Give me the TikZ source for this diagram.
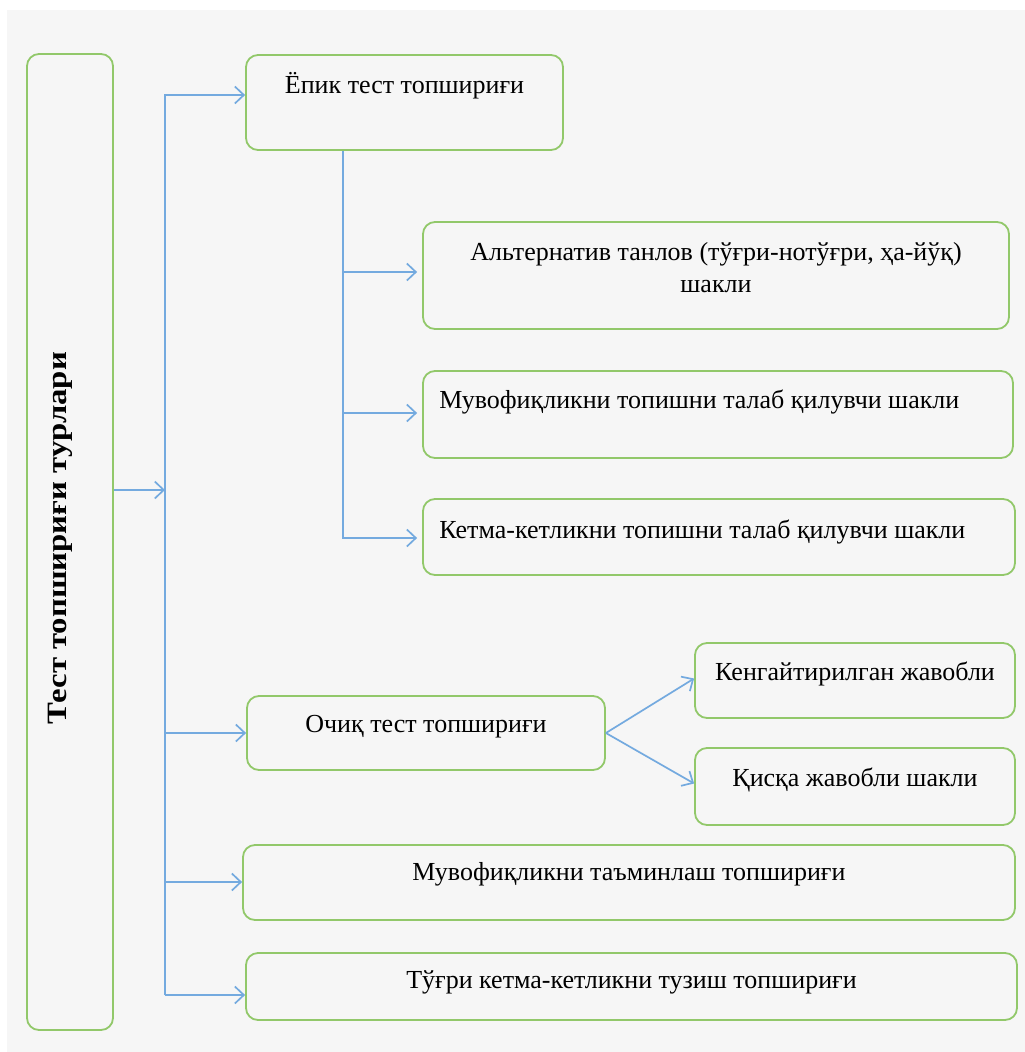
\documentclass[tikz,border=0pt]{standalone}
\usepackage{fontspec}
\setmainfont{Liberation Serif}
\usetikzlibrary{arrows.meta,positioning}
\definecolor{leaf}{HTML}{92C86A}
\definecolor{sky}{HTML}{74AADF}
\definecolor{paper}{HTML}{F6F6F6}
\tikzset{
  box/.style={draw=leaf,line width=1.8pt,rounded corners=12pt,fill=paper,inner sep=0pt},
  txt/.style={font=\fontsize{26}{32}\selectfont,text=black,inner sep=0pt,align=center},
  arrow/.style={-{Straight Barb[length=9pt,width=17pt]},line width=1.7pt,draw=sky},
  link/.style={line width=1.7pt,draw=sky}
}
\begin{document}
\begin{tikzpicture}[x=1pt,y=-1pt]
  \useasboundingbox (0,0) rectangle (1025,1052);
  \fill[paper] (7,10) rectangle (1025,1052);

  % boxes
  \node[box,minimum width=86pt,minimum height=976pt] (root) at (70,542) {};
  \node[box,minimum width=317pt,minimum height=95pt] (epik) at (404.5,102.5) {};
  \node[box,minimum width=586pt,minimum height=107pt] (alt) at (716,275.5) {};
  \node[box,minimum width=590pt,minimum height=87pt] (muvtop) at (718,414.5) {};
  \node[box,minimum width=592pt,minimum height=76pt] (ketma) at (719,537) {};
  \node[box,minimum width=358pt,minimum height=74pt] (ochiq) at (426,733) {};
  \node[box,minimum width=320pt,minimum height=75pt] (keng) at (855,680.5) {};
  \node[box,minimum width=320pt,minimum height=77pt] (qisqa) at (855,786.5) {};
  \node[box,minimum width=772pt,minimum height=75pt] (muvtam) at (629,882.5) {};
  \node[box,minimum width=771pt,minimum height=67pt] (tugri) at (631.5,986.5) {};

  % texts
  \node[txt,font=\bfseries\fontsize{28}{32}\selectfont,rotate=90] (rootT) at (60,538) {\scalebox{1.17}[1]{Тест топшириғи турлари}};
  \node[txt,anchor=base] (epikT) at ([yshift=-39pt]epik.north) {Ёпик тест топшириғи};
  \node[txt,anchor=north] (altT) at ([yshift=-21pt]alt.north) {Альтернатив танлов (тўғри-нотўғри, ҳа-йўқ)\\шакли};
  \node[txt,anchor=base west] (muvtopT) at ([xshift=17pt,yshift=-38pt]muvtop.north west) {Мувофиқликни топишни талаб қилувчи шакли};
  \node[txt,anchor=base west] (ketmaT) at ([xshift=17pt,yshift=-40pt]ketma.north west) {Кетма-кетликни топишни талаб қилувчи шакли};
  \node[txt,anchor=base] (ochiqT) at ([yshift=-37pt]ochiq.north) {Очиқ тест топшириғи};
  \node[txt,anchor=base] (kengT) at ([yshift=-38pt]keng.north) {Кенгайтирилган жавобли};
  \node[txt,anchor=base] (qisqaT) at ([yshift=-39pt]qisqa.north) {Қисқа жавобли шакли};
  \node[txt,anchor=base] (muvtamT) at ([yshift=-36pt]muvtam.north) {Мувофиқликни таъминлаш топшириғи};
  \node[txt,anchor=base] (tugriT) at ([yshift=-36pt]tugri.north) {Тўғри кетма-кетликни тузиш топшириғи};

  % trunk and branches
  \coordinate (top) at (165,95);
  \coordinate (hub) at (165,490);
  \coordinate (b2) at (165,733);
  \coordinate (b3) at (165,882);
  \coordinate (bot) at (165,995);
  \draw[arrow] (root.east |- hub) -- (hub);
  \draw[arrow] (bot) -- (top) -- (epik.west |- top);
  \foreach \c/\b in {b2/ochiq,b3/muvtam,bot/tugri}
    \draw[arrow] (\c) -- (\b.west |- \c);

  \coordinate (s1) at (343,272);
  \coordinate (s2) at (343,413);
  \coordinate (s3) at (343,538);
  \draw[arrow] (epik.south -| s3) -- (s3) -- ([xshift=-5pt]ketma.west |- s3);
  \foreach \c/\b in {s1/alt,s2/muvtop}
    \draw[arrow] (\c) -- ([xshift=-5pt]\b.west |- \c);

  \draw[arrow] (ochiq.east) -- ([yshift=2pt]keng.west);
  \draw[arrow] (ochiq.east) -- ([yshift=3pt]qisqa.west);
\end{tikzpicture}
\end{document}
